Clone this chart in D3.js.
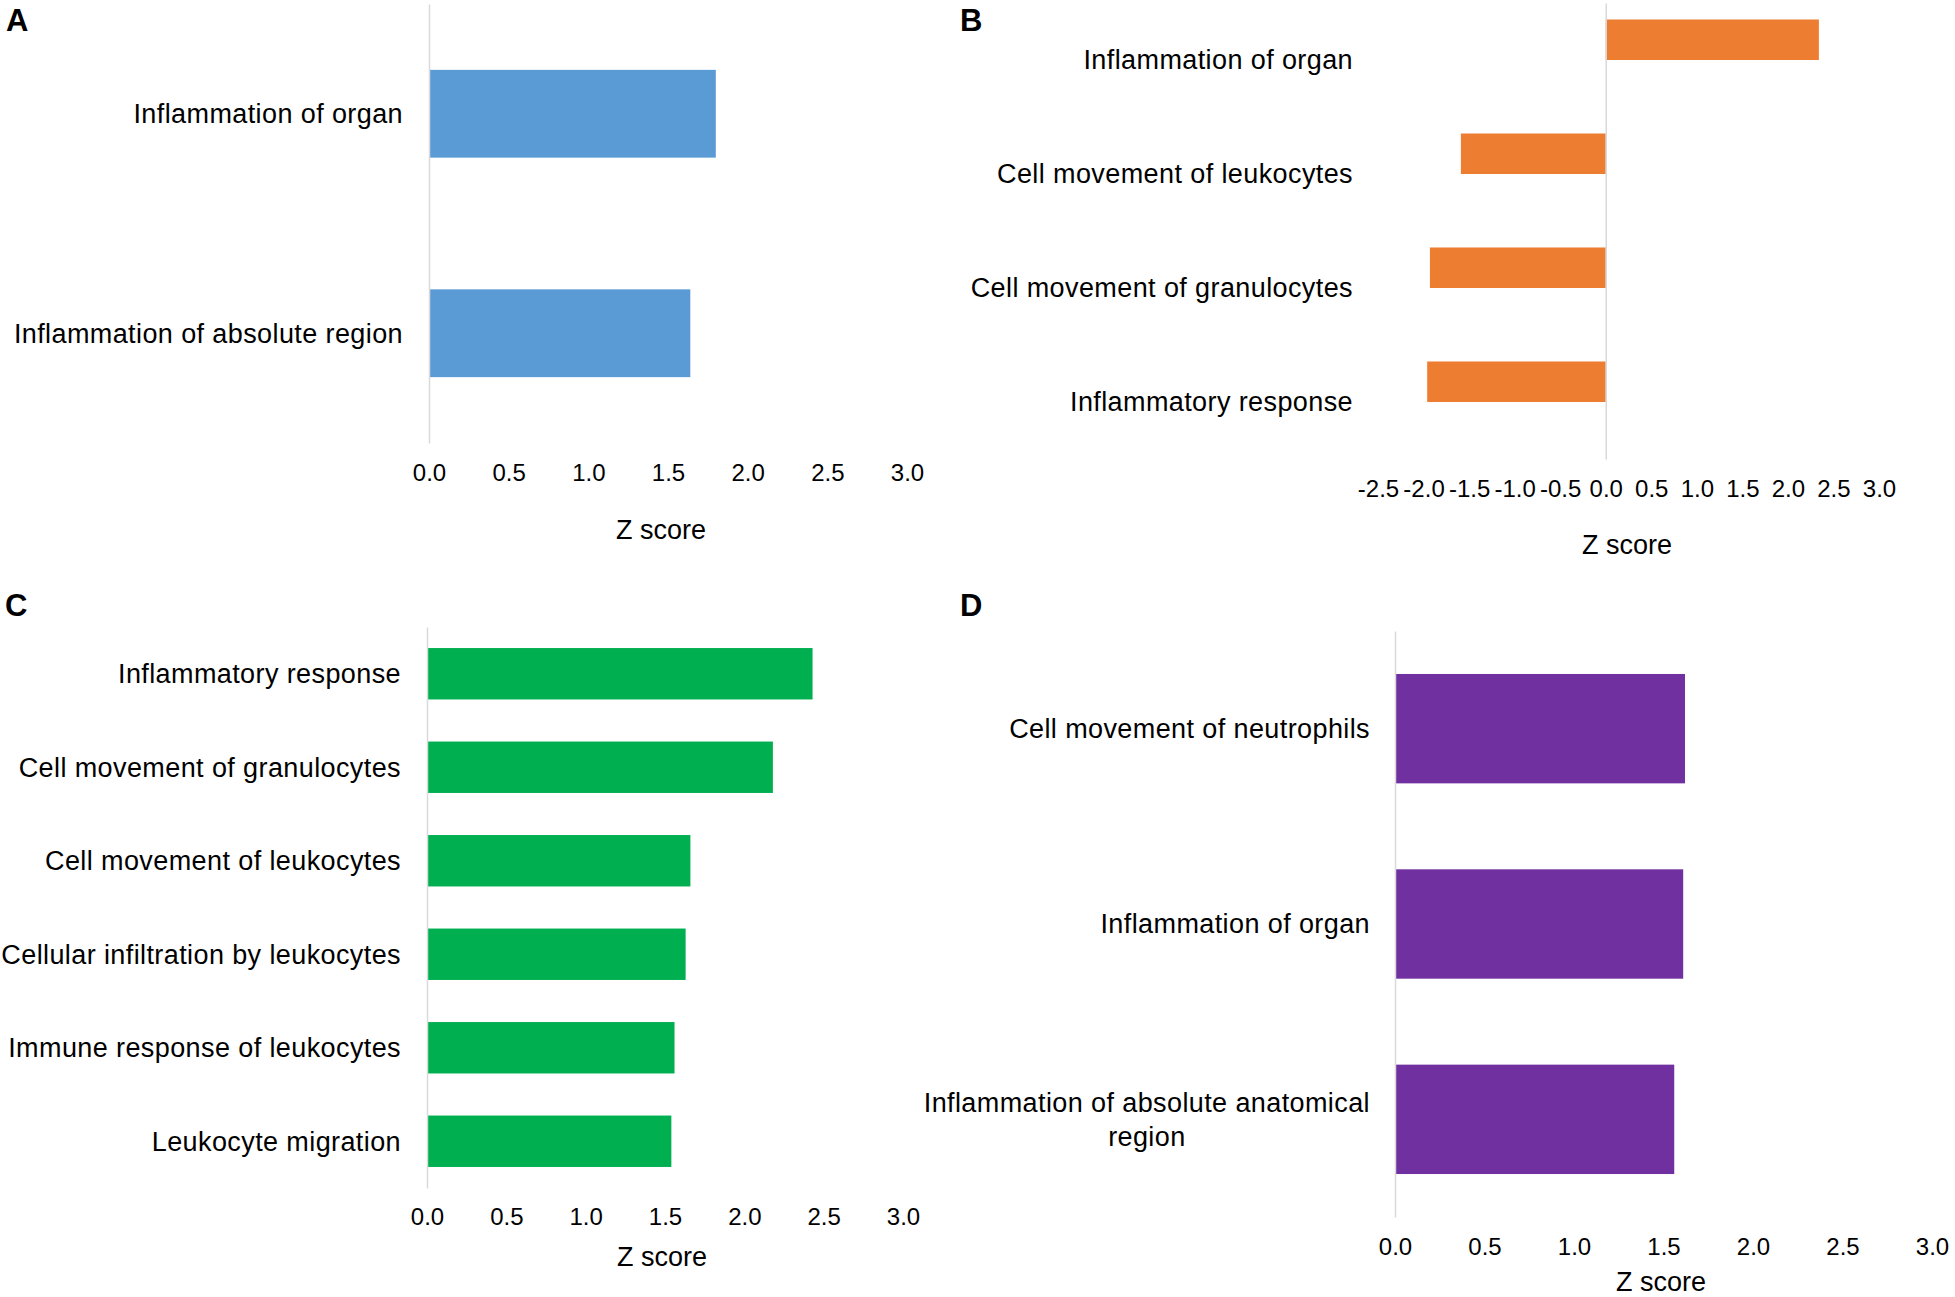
<!DOCTYPE html>
<html>
<head>
<meta charset="utf-8">
<script src="https://cdn.jsdelivr.net/npm/d3@7"></script>
<style>
  body { margin: 0; background: #fff; }
  text { font-family: "Liberation Sans", Arial, sans-serif; fill: #000; }
</style>
</head>
<body>
<div id="chart"></div>
<script>
// Panel A
var catsA = ["Inflammation of organ", "Inflammation of absolute region"];
var valsA = [1.80, 1.64];

// Panel B
var catsB = ["Inflammation of organ", "Cell movement of leukocytes",
  "Cell movement of granulocytes", "Inflammatory response"];
var valsB = [2.34, -1.59, -1.93, -1.96];

// Panel C
var catsC = ["Inflammatory response", "Cell movement of granulocytes",
  "Cell movement of leukocytes", "Cellular infiltration by leukocytes",
  "Immune response of leukocytes", "Leukocyte migration"];
var valsC = [2.43, 2.18, 1.66, 1.63, 1.56, 1.54];

// Panel D
var catsD = ["Cell movement of neutrophils", "Inflammation of organ",
  "Inflammation of absolute anatomical region"];
var valsD = [1.62, 1.61, 1.56];

var ticksPos = [0, 0.5, 1.0, 1.5, 2.0, 2.5, 3.0];
var ticksB = [-2.5, -2.0, -1.5, -1.0, -0.5, 0, 0.5, 1.0, 1.5, 2.0, 2.5, 3.0];

var svgWidth = 1955;
var svgHeight = 1297;

var svg = d3.select("#chart")
  .append("svg")
  .attr("width", svgWidth)
  .attr("height", svgHeight);

svg.append("rect")
  .attr("width", svgWidth)
  .attr("height", svgHeight)
  .attr("fill", "#fff");

// layout of each panel (pixel positions)
var panels = [
  { letter: "A", lx: 6, ly: 31, cats: catsA, vals: valsA, ticks: ticksPos, color: "#5b9bd5",
    xr: [429, 907], yr: [4, 443], pad: 0.6, labelX: 403, tickY: 473, title: [661, 530] },
  { letter: "B", lx: 960, ly: 31, cats: catsB, vals: valsB, ticks: ticksB, color: "#ed7d31",
    xr: [1378, 1879], yr: [3, 459], pad: 0, half: true, labelX: 1353, tickY: 489, title: [1627, 545] },
  { letter: "C", lx: 5, ly: 616, cats: catsC, vals: valsC, ticks: ticksPos, color: "#00b050",
    xr: [427, 903], yr: [627, 1188], pad: 0.45, labelX: 401, tickY: 1217, title: [662, 1257] },
  { letter: "D", lx: 960, ly: 616, cats: catsD, vals: valsD, ticks: ticksPos, color: "#7030a0",
    xr: [1395, 1932], yr: [631, 1217], pad: 0.44, labelX: 1370, tickY: 1247, title: [1661, 1282] }
];

function addLabel(g, txt, x, y, maxW) {
  var t = g.append("text")
    .attr("x", x)
    .attr("y", y)
    .attr("dy", "0.35em")
    .attr("font-size", 27)
    .attr("letter-spacing", 0.4)
    .attr("text-anchor", "end")
    .text(txt);
  if (t.node().getComputedTextLength() <= maxW) return;

  // wrap into lines, centred as a block whose right edge stays at x
  var words = txt.split(" "), lines = [], line = [];
  words.forEach(function(w) {
    line.push(w);
    t.text(line.join(" "));
    if (t.node().getComputedTextLength() > maxW && line.length > 1) {
      line.pop();
      lines.push(line.join(" "));
      line = [w];
    }
  });
  lines.push(line.join(" "));

  var widest = 0;
  lines.forEach(function(l) {
    t.text(l);
    widest = Math.max(widest, t.node().getComputedTextLength());
  });
  t.text(null).attr("text-anchor", "middle").attr("dy", null);
  var lh = 34;
  var y0 = y - (lines.length - 1) * lh / 2;
  lines.forEach(function(l, i) {
    t.append("tspan")
      .attr("x", x - widest / 2)
      .attr("y", y0 + i * lh)
      .attr("dy", "0.35em")
      .text(l);
  });
}

panels.forEach(function(p) {
  var g = svg.append("g");
  var data = p.cats.map(function(c, i) { return { cat: c, val: p.vals[i] }; });

  var x = d3.scaleLinear()
    .domain([p.ticks[0], p.ticks[p.ticks.length - 1]])
    .range(p.xr);

  var y = d3.scaleBand()
    .domain(p.cats)
    .range(p.yr)
    .paddingInner(p.pad)
    .paddingOuter(p.pad / 2);

  // B is a clustered bar with an empty second series: bar sits in upper half of slot
  var sub = d3.scaleBand()
    .domain(["z", "blank"])
    .range([0, y.bandwidth()])
    .paddingOuter(0.407);

  g.selectAll("rect.bar")
    .data(data)
    .enter()
    .append("rect")
    .attr("class", "bar")
    .attr("x", d => x(Math.min(0, d.val)))
    .attr("width", d => Math.abs(x(d.val) - x(0)))
    .attr("y", d => p.half ? y(d.cat) + sub("z") : y(d.cat))
    .attr("height", p.half ? sub.bandwidth() : y.bandwidth())
    .attr("fill", p.color);

  // vertical axis line at zero
  var ya = d3.axisLeft(y).tickSize(0).tickSizeOuter(0).tickFormat("");
  var gy = g.append("g")
    .attr("transform", `translate(${x(0)}, 0)`)
    .call(ya);
  gy.select(".domain").attr("stroke", "#d9d9d9").attr("stroke-width", 1.5);

  // category labels
  p.cats.forEach(function(c) {
    addLabel(g, c, p.labelX, y(c) + y.bandwidth() / 2, 460);
  });

  // x tick labels
  var xa = d3.axisBottom(x)
    .tickValues(p.ticks)
    .tickSize(0)
    .tickFormat(d => d.toFixed(1));
  var gx = g.append("g")
    .attr("transform", `translate(0, ${p.tickY})`)
    .call(xa);
  gx.attr("font-family", null).attr("font-size", 24);
  gx.select(".domain").remove();
  gx.selectAll("text").attr("y", 0).attr("dy", "0.35em").attr("fill", "#000");

  // axis title
  g.append("text")
    .attr("x", p.title[0])
    .attr("y", p.title[1])
    .attr("dy", "0.35em")
    .attr("text-anchor", "middle")
    .attr("font-size", 27)
    .text("Z score");

  // panel letter
  svg.append("text")
    .attr("x", p.lx)
    .attr("y", p.ly)
    .attr("font-size", 31)
    .style("font-weight", "bold")
    .text(p.letter);
});
</script>
</body>
</html>
